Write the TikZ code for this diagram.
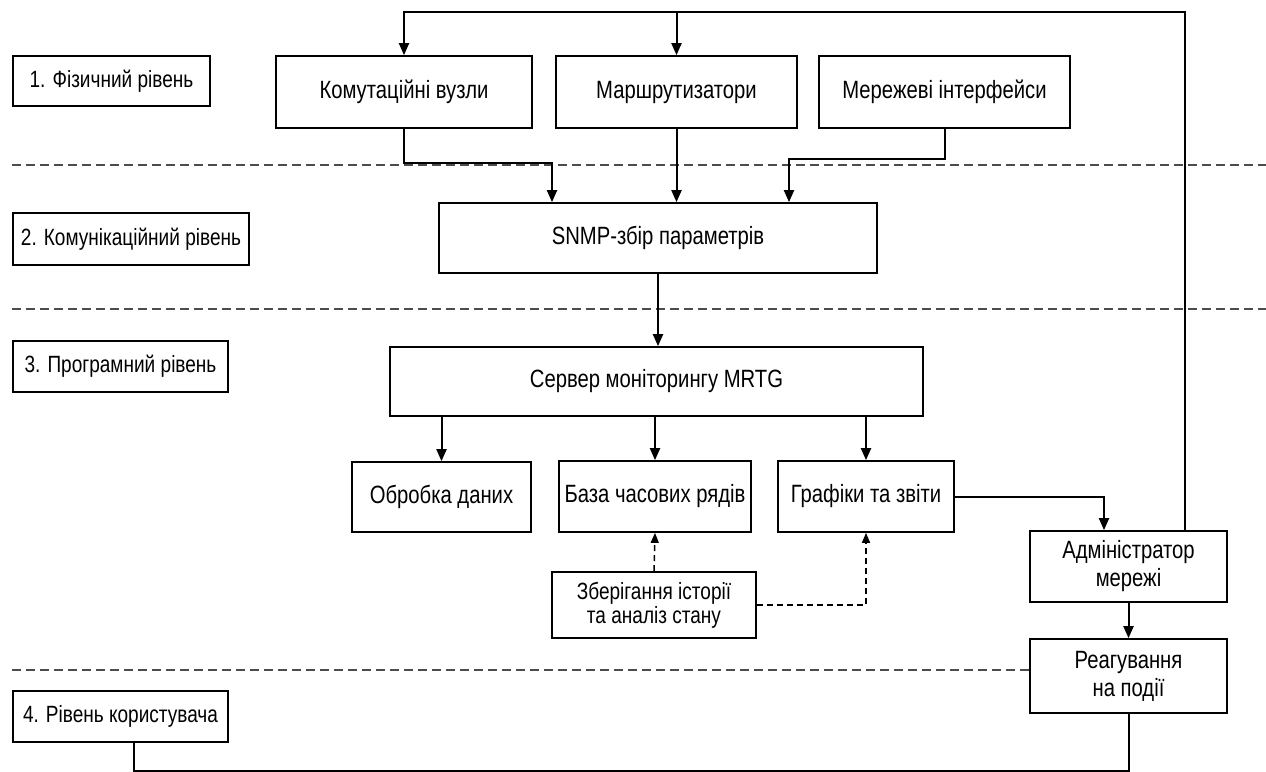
\documentclass[tikz,border=0pt]{standalone}
\usepackage{fontspec}
\setmainfont{Liberation Sans}[FakeStretch=0.81]
\usetikzlibrary{arrows.meta,calc}
\begin{document}
\begin{tikzpicture}[x=1pt,y=-1pt,
  box/.style={draw, line width=1.7pt, fill=white, inner sep=0pt, align=center,
    font=\fontsize{25}{28}\selectfont},
  oneline/.style={text height=17pt, text depth=5pt},
  layerbox/.style={box, oneline, font=\fontsize{23.5}{27}\selectfont},
  smallbox/.style={box, font=\fontsize{23.5}{24}\selectfont},
  conn/.style={line width=2pt},
  arr/.style={conn, -{Triangle[width=10pt,length=12pt]}},
  darr/.style={line width=1.5pt, dash pattern=on 6pt off 4pt, -{Triangle[width=8pt,length=10pt]}},
  sep/.style={line width=1.5pt, gray!60!black, dash pattern=on 9pt off 5pt}]
% canvas
\fill[white] (0,0) rectangle (1266,771);
\useasboundingbox (0,0) rectangle (1266,771);

% level separators
\draw[sep] (12,165) -- (1266,165);
\draw[sep] (12,309) -- (1266,309);

% level labels
\node[layerbox, minimum width=197, minimum height=50] (lab1) at (111.5,81) {1. Фізичний рівень};
\node[layerbox, minimum width=236, minimum height=52] (lab2) at (131,239) {2. Комунікаційний рівень};
\node[layerbox, minimum width=215, minimum height=51] (lab3) at (120.5,366.5) {3. Програмний рівень};
\node[layerbox, minimum width=215, minimum height=51] (lab4) at (120.5,716.5) {4. Рівень користувача};

% physical level
\node[box, oneline, minimum width=256, minimum height=72] (komut) at (404,92) {Комутаційні вузли};
\node[box, oneline, minimum width=241, minimum height=72] (marsh) at (676.5,92) {Маршрутизатори};
\node[box, oneline, minimum width=251, minimum height=72] (mer) at (944.5,92) {Мережеві інтерфейси};

% communication level
\node[box, oneline, minimum width=438, minimum height=70] (snmp) at (658,238) {SNMP-збір параметрів};

% software level
\node[box, oneline, minimum width=533, minimum height=69] (server) at (656.5,381.5) {Сервер моніторингу MRTG};
\node[box, oneline, minimum width=179, minimum height=70] (obr) at (441.5,497) {Обробка даних};
\node[box, oneline, minimum width=192, minimum height=71] (baza) at (655,496.5) {База часових рядів};
\node[box, oneline, minimum width=176, minimum height=71] (graf) at (866,496.5) {Графіки та звіти};
\node[smallbox, minimum width=204, minimum height=66] (zber) at (654,605) {Зберігання історії\\та аналіз стану};

% user level
\node[box, minimum width=197, minimum height=71] (adm) at (1128.5,566.5) {Адміністратор\\мережі};
\node[box, minimum width=197, minimum height=74] (reag) at (1128.5,676) {Реагування\\на події};
\coordinate (sepL) at (12,670);
\draw[sep] (sepL) -- (sepL -| reag.west);

% feedback loop from the administrator to the devices
\coordinate (loopR) at (1185,12);
\draw[arr] (adm.north -| loopR) -- (loopR) -- (komut.north |- loopR) -- (komut.north);
\draw[arr] (marsh.north |- loopR) -- (marsh.north);

% devices to SNMP
\coordinate (s1) at (552,163);
\coordinate (s3) at (789,159);
\draw[arr] (komut.south) |- (s1) -- (s1 |- snmp.north);
\draw[arr] (marsh.south) -- (marsh.south |- snmp.north);
\draw[arr] (mer.south) |- (s3) -- (s3 |- snmp.north);

% SNMP to server and server outputs
\draw[arr] (snmp.south) -- (snmp.south |- server.north);
\draw[arr] (obr.north |- server.south) -- (obr.north);
\draw[arr] (baza.north |- server.south) -- (baza.north);
\draw[arr] (graf.north |- server.south) -- (graf.north);

% history storage
\draw[darr] (zber.north) -- (baza.south);
\draw[darr] (zber.east) -| (graf.south);

% reports to administrator, administrator to reaction
\coordinate (g1) at (1104,497);
\draw[arr] (graf.east) -| (g1 |- adm.north);
\draw[arr] (adm.south) -- (reag.north);

% user level link along the bottom
\coordinate (b1) at (134,770.5);
\draw[conn] (b1 |- lab4.south) -- (b1) -- (reag.south |- b1) -- (reag.south);
\end{tikzpicture}
\end{document}
